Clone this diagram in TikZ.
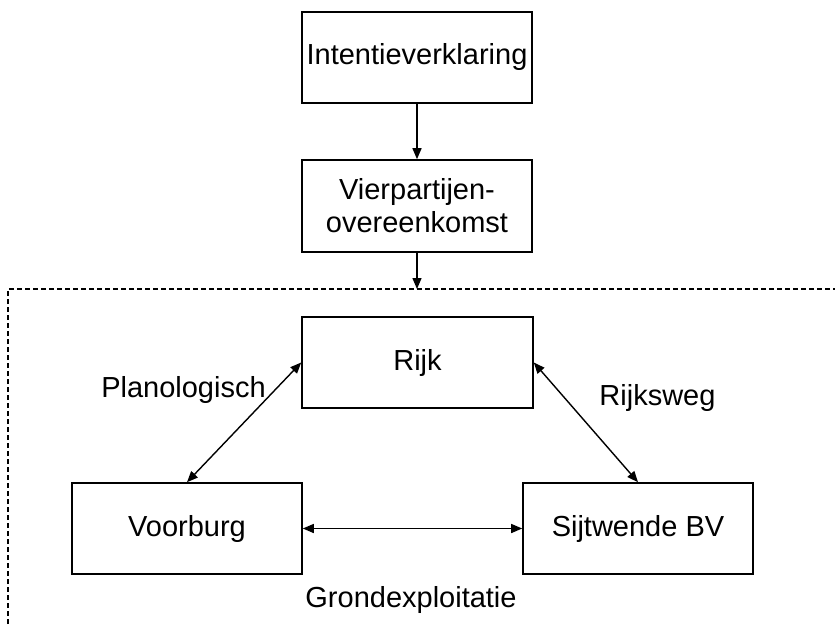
\documentclass[tikz,border=0pt]{standalone}
\usepackage{fontspec}
\setmainfont{Liberation Sans}
\usetikzlibrary{arrows.meta}
\begin{document}
\begin{tikzpicture}[x=1pt,y=-1pt,
  box/.style={draw, line width=1.6pt, inner sep=0pt, minimum width=230pt, minimum height=91pt, align=center, font=\fontsize{29}{33}\selectfont},
  lbl/.style={inner sep=0pt, anchor=base, font=\fontsize{29}{33}\selectfont},
  conn/.style={line width=1.4pt, -{Triangle[length=11pt,width=9pt]}},
  dconn/.style={line width=1.4pt, {Triangle[length=11pt,width=9pt]}-{Triangle[length=11pt,width=9pt]}},
  frame/.style={line width=1.1pt, dash pattern=on 5pt off 3pt}]
\useasboundingbox (0,0) rectangle (835,624);
\node[box] (intent) at (417,57.5) {Intentieverklaring};
\node[box, minimum height=92pt] (vier) at (417,206) {Vierpartijen-\\overeenkomst};
\node[box, minimum width=231pt] (rijk) at (417.5,362.5) {Rijk};
\node[box] (voor) at (187,528.5) {Voorburg};
\node[box] (sijt) at (638,528.5) {Sijtwende BV};
\coordinate (ftop) at (417,289);
\coordinate (fl) at (8,289);
\coordinate (fr) at (835,289);
\coordinate (fb) at (8,624);
\draw[frame] (fb) -- (fl) -- (fr);
\draw[conn] (intent) -- (vier);
\draw[conn] (vier) -- (ftop);
\draw[dconn] (rijk.west) -- (voor.north);
\draw[dconn] (rijk.east) -- (sijt.north);
\draw[dconn] (voor) -- (sijt);
\node[lbl] (plan) at (183.5,397) {Planologisch};
\node[lbl] (rw) at (657.5,405) {Rijksweg};
\node[lbl] (grond) at (411,607) {Grondexploitatie};
\end{tikzpicture}
\end{document}
